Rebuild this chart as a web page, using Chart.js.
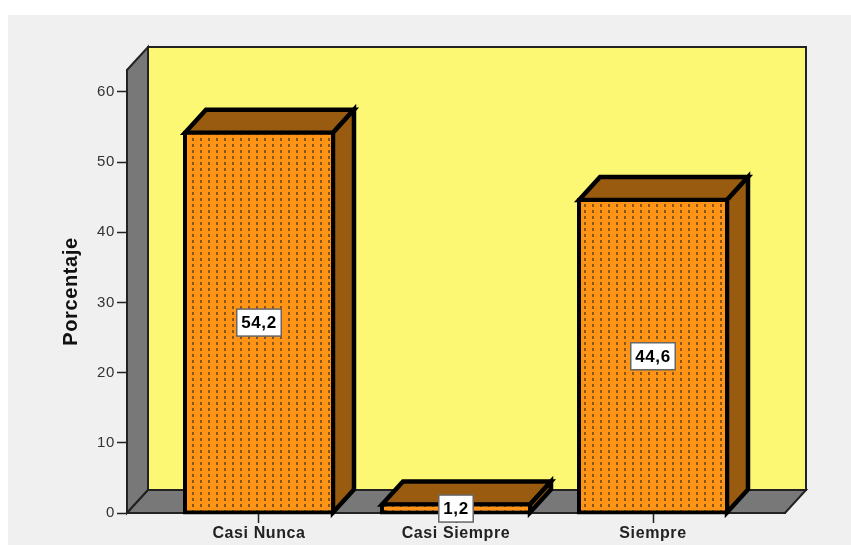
<!DOCTYPE html>
<html lang="es">
<head>
  <meta charset="UTF-8">
  <title>Porcentaje</title>
  <script src="https://cdn.jsdelivr.net/npm/chart.js"></script>
  <style>
    html, body { margin: 0; padding: 0; background: #ffffff; }
    #panel { position: absolute; left: 8px; top: 15px; width: 843px; height: 530px; background: #f0f0f0; }
    #wrap { position: absolute; left: 0; top: 0; width: 851px; height: 545px; }
  </style>
</head>

<body>
  <div id="panel"></div>
  <div id="wrap"><canvas id="myChart" width="851" height="545"></canvas></div>

<script>
  const categories = ['Casi Nunca', 'Casi Siempre', 'Siempre'];
  const porcentaje = [54.2, 1.2, 44.6];
  const yTicks = [0, 10, 20, 30, 40, 50, 60];
  const axisTitle = 'Porcentaje';

  const DEPTH_X = 21;
  const DEPTH_Y = 23;
  const FONT = '"Liberation Sans", Arial, sans-serif';

  function poly(ctx, pts, fill, stroke, width) {
    ctx.beginPath();
    pts.forEach((p, i) => i ? ctx.lineTo(p[0], p[1]) : ctx.moveTo(p[0], p[1]));
    ctx.closePath();
    ctx.fillStyle = fill;
    ctx.fill();
    if (stroke) {
      ctx.strokeStyle = stroke;
      ctx.lineWidth = width;
      ctx.lineJoin = 'miter';
      ctx.stroke();
    }
  }

  // dotted fill of the bar fronts
  function dotPattern() {
    const tile = document.createElement('canvas');
    tile.width = 8;
    tile.height = 6;
    const c = tile.getContext('2d');
    c.fillStyle = '#ff9416';
    c.fillRect(0, 0, 8, 6);
    c.fillStyle = '#86561c';
    c.fillRect(0, 0, 2, 3);
    return tile;
  }

  const walls = {
    id: 'walls',
    beforeDraw(chart) {
      chart.ctx.letterSpacing = '0.6px';
    },
    beforeDatasetsDraw(chart) {
      const ctx = chart.ctx;
      const a = chart.chartArea;
      const d = [DEPTH_X, -DEPTH_Y];
      ctx.save();
      // back wall
      poly(ctx, [[a.left + d[0], a.top + d[1]], [a.right + d[0], a.top + d[1]], [a.right + d[0], a.bottom + d[1]], [a.left + d[0], a.bottom + d[1]]], '#fcf873', '#222222', 2);
      // side wall and floor
      poly(ctx, [[a.left, a.top], [a.left + d[0], a.top + d[1]], [a.left + d[0], a.bottom + d[1]], [a.left, a.bottom]], '#787878', '#222222', 2);
      poly(ctx, [[a.left, a.bottom], [a.left + d[0], a.bottom + d[1]], [a.right + d[0], a.bottom + d[1]], [a.right, a.bottom]], '#787878', '#222222', 2);
      // bar top and side faces
      chart.getDatasetMeta(0).data.forEach(bar => {
        const l = bar.x - bar.width / 2;
        const r = bar.x + bar.width / 2;
        const t = bar.y;
        const b = bar.base;
        poly(ctx, [[l, t], [l + d[0], t + d[1]], [r + d[0], t + d[1]], [r, t]], '#985b10', '#000000', 4.5);
        poly(ctx, [[r, t], [r + d[0], t + d[1]], [r + d[0], b + d[1]], [r, b]], '#985b10', '#000000', 4.5);
      });
      ctx.restore();
    }
  };

  const valueLabels = {
    id: 'valueLabels',
    afterDatasetsDraw(chart) {
      const ctx = chart.ctx;
      ctx.save();
      ctx.font = 'bold 17px ' + FONT;
      ctx.textAlign = 'center';
      ctx.textBaseline = 'middle';
      chart.getDatasetMeta(0).data.forEach((bar, i) => {
        const text = String(porcentaje[i]).replace('.', ',');
        const w = ctx.measureText(text).width + 9;
        const h = 27;
        const cy = (bar.y + bar.base) / 2;
        ctx.fillStyle = '#ffffff';
        ctx.fillRect(bar.x - w / 2, cy - h / 2, w, h);
        ctx.strokeStyle = '#666666';
        ctx.lineWidth = 1.5;
        ctx.strokeRect(bar.x - w / 2, cy - h / 2, w, h);
        ctx.fillStyle = '#000000';
        ctx.fillText(text, bar.x, cy + 1);
      });
      ctx.restore();
    }
  };

  const myChart = new Chart(document.getElementById('myChart'), {
    type: 'bar',
    data: {
      datasets: [{
        label: axisTitle,
        data: porcentaje.map((v, i) => ({ x: i, y: v })),
        backgroundColor: document.createElement('canvas').getContext('2d').createPattern(dotPattern(), 'repeat'),
        borderColor: '#000000',
        borderWidth: 4,
        inflateAmount: 2,
        borderSkipped: false,
        barThickness: 148,
        clip: false
      }]
    },
    plugins: [walls, valueLabels],
    options: {
      responsive: false,
      animation: false,
      layout: { padding: { left: 0, top: 70, right: 66, bottom: 0 } },
      plugins: { legend: { display: false }, tooltip: { enabled: false } },
      scales: {
        x: {
          type: 'linear',
          offset: false,
          min: -0.67,
          max: 2.67,
          afterBuildTicks(scale) { scale.ticks = categories.map((c, i) => ({ value: i })); },
          afterFit(scale) { scale.height = 32; },
          grid: { offset: false, drawOnChartArea: false, drawTicks: true, tickLength: 10, tickColor: '#222222', tickWidth: 1.5 },
          border: { color: '#111111', width: 2 },
          ticks: {
            autoSkip: false,
            maxRotation: 0,
            padding: 1,
            color: '#222222',
            font: { family: FONT, size: 16, weight: 'bold' },
            callback: value => categories[value]
          }
        },
        y: {
          min: 0,
          max: 63.13,
          afterBuildTicks(scale) { scale.ticks = yTicks.map(v => ({ value: v })); },
          afterFit(scale) { scale.width = 127; },
          grid: { drawOnChartArea: false, drawTicks: true, tickLength: 10, tickColor: '#222222', tickWidth: 1.5 },
          border: { color: '#222222', width: 2 },
          title: {
            display: true,
            text: axisTitle,
            color: '#111111',
            font: { family: FONT, size: 20, weight: 'bold' },
            padding: { top: 59, bottom: 0 }
          },
          ticks: {
            padding: 2,
            color: '#333333',
            font: { family: FONT, size: 15 }
          }
        }
      }
    }
  });
</script>
</body>
</html>
